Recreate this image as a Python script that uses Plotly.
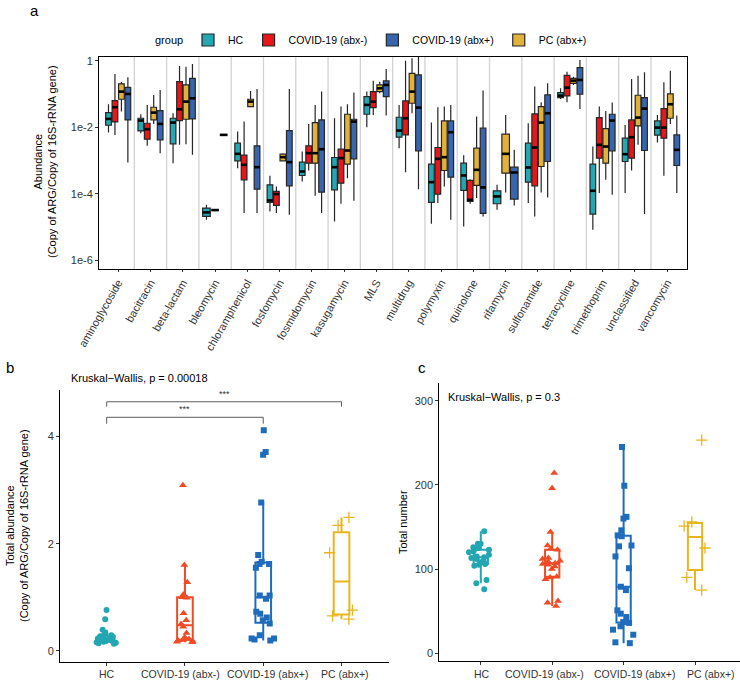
import numpy as np
import plotly.graph_objects as go

# ---------------- Panel a data (log10 abundance: lower whisker, Q1, median, Q3, upper whisker)
categories = ["aminoglycoside", "bacitracin", "beta-lactam", "bleomycin", "chloramphenicol",
              "fosfomycin", "fosmidomycin", "kasugamycin", "MLS", "multidrug", "polymyxin",
              "quinolone", "rifamycin", "sulfonamide", "tetracycline", "trimethoprim",
              "unclassified", "vancomycin"]
groups = ["HC", "COVID-19 (abx-)", "COVID-19 (abx+)", "PC (abx+)"]
dodge_order = ["HC", "COVID-19 (abx-)", "PC (abx+)", "COVID-19 (abx+)"]

hc_stats = [(-2.16, -1.94, -1.75, -1.56, -1.31), (-2.18, -2.11, -1.80, -1.73, -1.61),
            (-3.08, -2.50, -1.86, -1.73, -1.58), (-4.78, -4.68, -4.56, -4.43, -4.33),
            (-3.23, -3.01, -2.80, -2.48, -2.13), (-4.53, -4.26, -4.20, -3.73, -3.46),
            (-3.63, -3.45, -3.33, -3.05, -2.73), (-4.83, -3.88, -3.20, -2.91, -1.73),
            (-2.00, -1.61, -1.33, -1.08, -0.93), (-2.63, -2.30, -2.10, -1.70, -1.33),
            (-4.90, -4.26, -3.65, -3.11, -1.86), (-4.98, -3.90, -3.45, -3.08, -2.84),
            (-4.48, -4.30, -4.08, -3.91, -3.73), (-4.28, -3.65, -3.21, -2.48, -1.88),
            (-1.15, -1.11, -1.05, -0.96, -0.83), (-5.08, -4.61, -3.91, -3.11, -2.58),
            (-3.98, -3.03, -2.81, -2.33, -1.93), (-2.46, -2.24, -2.01, -1.81, -1.63)]
abxneg_stats = [(-2.23, -1.84, -1.40, -1.20, -0.40), (-2.56, -2.36, -2.06, -1.88, -1.33),
                (-2.53, -1.80, -1.46, -0.63, -0.16), (-4.49, -4.49, -4.49, -4.49, -4.49),
                (-4.58, -3.58, -3.13, -2.84, -1.83), (-4.58, -4.35, -4.01, -3.93, -3.78),
                (-3.30, -3.08, -2.78, -2.56, -1.90), (-4.30, -3.68, -2.93, -2.66, -1.38),
                (-1.63, -1.41, -1.23, -0.93, -0.60), (-3.35, -2.23, -1.73, -1.21, 0.00),
                (-4.28, -4.01, -2.95, -2.61, -1.40), (-4.30, -4.23, -4.18, -3.60, -3.56),
                None, (-4.68, -3.76, -2.61, -1.60, -0.78),
                (-1.25, -1.06, -0.81, -0.44, -0.33), (-3.98, -2.93, -2.53, -1.71, -1.38),
                (-3.30, -2.93, -2.30, -1.78, -0.55), (-3.46, -2.33, -2.01, -1.44, -0.65)]
pc_stats = [(-1.53, -1.16, -0.93, -0.70, -0.64), (-1.90, -1.78, -1.56, -1.40, -1.03),
            (-2.51, -1.76, -1.23, -0.73, -0.18), None,
            (-1.38, -1.38, -1.23, -1.16, -0.91), (-3.01, -3.01, -2.90, -2.81, -2.78),
            (-4.06, -3.08, -2.78, -1.86, -1.33), (-3.53, -3.11, -2.70, -1.61, -1.31),
            (-0.98, -0.93, -0.83, -0.73, -0.63), (-1.58, -1.28, -0.93, -0.38, 0.07),
            (-3.78, -3.30, -2.90, -1.81, -1.38), (-4.13, -3.75, -3.28, -2.63, -1.68),
            (-3.96, -3.38, -2.80, -2.21, -1.63), (-3.96, -3.18, -1.86, -1.38, -1.25),
            (-0.73, -0.68, -0.60, -0.53, -0.48), (-3.58, -3.08, -2.58, -2.04, -1.51),
            (-2.53, -1.96, -1.71, -1.04, -0.45), (-1.90, -1.73, -1.31, -1.00, -0.30)]
abxpos_stats = [(-3.06, -1.78, -1.00, -0.80, -0.50), (-2.78, -2.38, -1.90, -1.50, -0.88),
                (-2.83, -1.75, -1.13, -0.53, -0.10), (-2.23, -2.23, -2.23, -2.23, -2.23),
                (-4.58, -3.86, -3.20, -2.56, -0.85), (-4.63, -3.76, -3.05, -2.10, -0.85),
                (-4.58, -3.95, -2.66, -1.78, -0.93), (-4.21, -2.95, -1.83, -1.76, -0.96),
                (-1.65, -1.08, -0.73, -0.61, -0.25), (-3.86, -2.71, -1.41, -0.43, 0.11),
                (-4.78, -3.50, -2.15, -1.81, -1.33), (-4.68, -4.59, -3.81, -2.03, -0.90),
                (-4.35, -4.16, -3.36, -3.20, -2.68), (-4.11, -3.03, -1.58, -1.03, -0.68),
                (-1.45, -1.01, -0.58, -0.21, 0.02), (-4.03, -2.71, -1.80, -1.61, -1.26),
                (-4.61, -2.70, -1.44, -1.11, -0.35), (-3.98, -3.15, -2.68, -2.23, -1.65)]

a_ytickvals = [1, 1e-2, 1e-4, 1e-6]
a_yticktext = ["1", "1e-2", "1e-4", "1e-6"]

# ---------------- Panel b data: total abundance per sample
b_hc = [0.13, 0.14, 0.15, 0.16, 0.17, 0.17, 0.19, 0.21, 0.22, 0.23, 0.24, 0.25, 0.26, 0.27,
        0.28, 0.29, 0.33, 0.39, 0.59, 0.76]
b_abxneg = [0.16, 0.17, 0.18, 0.19, 0.20, 0.22, 0.25, 0.33, 0.45, 0.50, 0.57, 0.70, 0.99, 1.00,
            1.05, 1.28, 1.60, 3.09]
b_abxpos = [0.19, 0.21, 0.23, 0.23, 0.29, 0.51, 0.57, 0.62, 0.69, 0.73, 0.97, 1.03, 1.03,
            1.55, 1.62, 1.66, 1.62, 1.79, 2.77, 3.66, 3.71, 4.12]
b_pc = [0.59, 0.65, 0.76, 1.83, 2.34, 2.49]
b_pvalue_text = "Kruskal\u2212Wallis, p = 0.00018"
b_sig_text = ["***", "***"]

# ---------------- Panel c data: total number of ARGs per sample
c_hc = [76, 83, 87, 104, 105, 106, 108, 110, 112, 113, 114, 115, 117, 120, 121, 123, 125, 126,
        130, 130, 145]
c_abxneg = [56, 60, 62, 88, 90, 91, 100, 103, 105, 106, 107, 109, 110, 112, 113, 123, 124, 128,
            144, 196, 214]
c_abxpos = [12, 13, 22, 28, 32, 36, 37, 43, 47, 51, 75, 79, 101, 115, 127, 128, 139, 140, 146,
            160, 162, 199, 245]
c_pc = [75, 90, 125, 151, 156, 253]
c_pvalue_text = "Kruskal\u2212Wallis, p = 0.3"

# ---------------- styling
FONT = "Liberation Sans, Arial, sans-serif"
W, H = 740, 681
colors_a = {"HC": "#23A8B3", "COVID-19 (abx-)": "#E8161B",
            "COVID-19 (abx+)": "#3866AE", "PC (abx+)": "#E2B13A"}
colors_bc = {"HC": "#22A6B2", "COVID-19 (abx-)": "#EF4B24",
             "COVID-19 (abx+)": "#1F6CBD", "PC (abx+)": "#E9B51F"}
symbols = {"HC": "circle", "COVID-19 (abx-)": "triangle-up",
           "COVID-19 (abx+)": "square", "PC (abx+)": "cross-thin"}
msize = {"HC": 6, "COVID-19 (abx-)": 7, "COVID-19 (abx+)": 6, "PC (abx+)": 8}
# label centres (px) for the group labels under panels b and c (spread to avoid overlap)
b_label_px = [106.7, 180.5, 267.7, 345.0]
c_label_px = [481.7, 544.7, 634.3, 711.3]


def px(x):
    return x / W


def py(y):
    return 1 - y / H


def box_stats(v):
    v = np.sort(np.asarray(v, float))
    q1, md, q3 = np.percentile(v, [25, 50, 75])
    iqr = q3 - q1
    lo = v[v >= q1 - 1.5 * iqr].min()
    hi = v[v <= q3 + 1.5 * iqr].max()
    return lo, q1, md, q3, hi


fig = go.Figure()

# ---------------- Panel a
stats_a = {"HC": hc_stats, "COVID-19 (abx-)": abxneg_stats,
           "COVID-19 (abx+)": abxpos_stats, "PC (abx+)": pc_stats}
DODGE = 0.8
shown = set()
med_x, med_y = [], []
for i, cat in enumerate(categories):
    present = [g for g in dodge_order if stats_a[g][i] is not None]
    n = len(present)
    slot = DODGE / n
    w = slot * 0.88
    for j, g in enumerate(present):
        pos = i + (j - (n - 1) / 2) * slot
        lo, q1, md, q3, hi = [10 ** v for v in stats_a[g][i]]
        fig.add_trace(go.Box(
            x=[pos], q1=[q1], median=[md], q3=[q3], lowerfence=[lo], upperfence=[hi],
            width=w, fillcolor=colors_a[g], line=dict(color="#262626", width=1.2),
            whiskerwidth=0, boxpoints=False, name=g, legendgroup=g,
            showlegend=g not in shown, legendrank=groups.index(g) + 1,
            xaxis="x", yaxis="y", hoverinfo="skip"))
        shown.add(g)
        med_x += [pos - w / 2, pos + w / 2, None]
        med_y += [md, md, None]
fig.add_trace(go.Scatter(x=med_x, y=med_y, mode="lines", line=dict(color="black", width=2.6),
                         showlegend=False, hoverinfo="skip", xaxis="x", yaxis="y"))

# ---------------- Panels b & c
def add_panel(data, xa, ya):
    for g, vals in zip(groups, data):
        col = colors_bc[g]
        lo, q1, md, q3, hi = box_stats(vals)
        fig.add_trace(go.Box(
            x=[g], q1=[q1], median=[md], q3=[q3], lowerfence=[lo], upperfence=[hi],
            width=0.2, fillcolor="rgba(255,255,255,0)", line=dict(color=col, width=2),
            whiskerwidth=0, boxpoints=False, showlegend=False, xaxis=xa, yaxis=ya,
            hoverinfo="skip"))
        mk = dict(symbol=symbols[g], size=msize[g], color=col)
        if g == "PC (abx+)":
            mk["line"] = dict(color=col, width=1.3)
        fig.add_trace(go.Box(
            x=[g] * len(vals), y=vals, width=0.36, boxpoints="all", jitter=1, pointpos=0,
            fillcolor="rgba(0,0,0,0)", line=dict(color="rgba(0,0,0,0)", width=0),
            marker=mk, showlegend=False, xaxis=xa, yaxis=ya, hoverinfo="skip"))


add_panel([b_hc, b_abxneg, b_abxpos, b_pc], "x2", "y2")
add_panel([c_hc, c_abxneg, c_abxpos, c_pc], "x3", "y3")

# ---------------- shapes
shapes = []
for i in range(len(categories) - 1):
    shapes.append(dict(type="line", xref="x", yref="y domain", x0=i + 0.5, x1=i + 0.5,
                       y0=0, y1=1, line=dict(color="#D2D2D2", width=1.3), layer="below"))
# significance brackets in panel b (HC vs abx+, HC vs PC)
brackets = [(0, 2, 4.36, 4.24), (0, 3, 4.65, 4.56)]
for (xa0, xa1, ytop, ytip), lab in zip(brackets, b_sig_text):
    shapes.append(dict(type="path", xref="x2", yref="y2",
                       path=f"M {xa0},{ytip} L {xa0},{ytop} L {xa1},{ytop} L {xa1},{ytip}",
                       line=dict(color="#333333", width=0.8)))

annotations = []
for (xa0, xa1, ytop, ytip), lab in zip(brackets, b_sig_text):
    annotations.append(dict(x=(xa0 + xa1) / 2, y=ytop + 0.02, xref="x2", yref="y2", text=lab,
                            showarrow=False, xanchor="center", yanchor="bottom",
                            font=dict(family=FONT, size=9, color="#333")))
# group labels under panels b and c
for lx_list in (b_label_px, c_label_px):
    for g, lx in zip(groups, lx_list):
        annotations.append(dict(x=px(lx), y=py(674), xref="paper", yref="paper", text=g,
                                showarrow=False, xanchor="center", yanchor="middle",
                                font=dict(family=FONT, size=10.5, color="#333333")))
# panel letters
annotations += [
    dict(x=px(28), y=py(10), text="a", xref="paper", yref="paper", showarrow=False,
         xanchor="left", yanchor="middle", font=dict(family=FONT, size=15, color="black")),
    dict(x=px(4), y=py(367), text="b", xref="paper", yref="paper", showarrow=False,
         xanchor="left", yanchor="middle", font=dict(family=FONT, size=15, color="black")),
    dict(x=px(416), y=py(367), text="c", xref="paper", yref="paper", showarrow=False,
         xanchor="left", yanchor="middle", font=dict(family=FONT, size=15, color="black")),
    dict(x=px(153), y=py(40), text="group", xref="paper", yref="paper", showarrow=False,
         xanchor="left", yanchor="middle", font=dict(family=FONT, size=11, color="black")),
]
# axis titles
annotations += [
    dict(x=px(45), y=py(162), text="Abundance<br>(Copy of ARG/Copy of 16S-rRNA gene)",
         xref="paper", yref="paper", showarrow=False, textangle=-90,
         xanchor="center", yanchor="middle",
         font=dict(family=FONT, size=11, color="black")),
    dict(x=px(17), y=py(526), text="Total abundance<br>(Copy of ARG/Copy of 16S-rRNA gene)",
         xref="paper", yref="paper", showarrow=False, textangle=-90,
         xanchor="center", yanchor="middle",
         font=dict(family=FONT, size=11, color="black")),
    dict(x=px(403), y=py(522), text="Total number",
         xref="paper", yref="paper", showarrow=False, textangle=-90,
         xanchor="center", yanchor="middle",
         font=dict(family=FONT, size=11, color="black")),
    dict(x=px(69), y=py(378), text=b_pvalue_text, xref="paper", yref="paper",
         showarrow=False, xanchor="left", yanchor="middle",
         font=dict(family=FONT, size=11, color="black")),
    dict(x=px(446), y=py(397), text=c_pvalue_text, xref="paper", yref="paper",
         showarrow=False, xanchor="left", yanchor="middle",
         font=dict(family=FONT, size=11, color="black")),
]

tickfont = dict(family=FONT, size=11, color="#333333")
common = dict(showgrid=False, zeroline=False, ticks="outside", ticklen=3, tickcolor="#333",
              showline=True, linecolor="black", linewidth=1, tickfont=tickfont)

fig.update_layout(
    template="none",
    width=W, height=H,
    margin=dict(l=0, r=0, t=0, b=0),
    paper_bgcolor="white", plot_bgcolor="white",
    font=dict(family=FONT, size=11, color="black"),
    boxmode="overlay",
    showlegend=True,
    legend=dict(orientation="h", x=px(188), xanchor="left", y=py(40), yanchor="middle",
                font=dict(family=FONT, size=10.5, color="black"), bgcolor="rgba(0,0,0,0)",
                itemwidth=30, traceorder="normal"),
    xaxis=dict(domain=[px(99), px(687)], range=[-0.594, 17.616],
               tickvals=list(range(len(categories))), ticktext=categories, tickangle=-60,
               mirror=True, anchor="y", **{**common, "ticklen": 2}),
    yaxis=dict(domain=[py(269), py(57)], type="log", range=[-6.26, 0.11], tickvals=a_ytickvals,
               ticktext=a_yticktext, mirror=True, anchor="x", **common),
    xaxis2=dict(domain=[px(60), px(388.5)], type="category", categoryorder="array",
                categoryarray=groups, range=[-0.596, 3.6], anchor="y2",
                showticklabels=False, **common),
    yaxis2=dict(domain=[py(662), py(390)], range=[-0.21, 4.87], tickvals=[0, 2, 4],
                anchor="x2", **common),
    xaxis3=dict(domain=[px(439.3), 1.0], type="category", categoryorder="array",
                categoryarray=groups, range=[-0.581, 3.63], anchor="y3",
                showticklabels=False, **common),
    yaxis3=dict(domain=[py(661), py(383.3)], range=[-9.2, 320.6], tickvals=[0, 100, 200, 300],
                anchor="x3", **common),
    shapes=shapes,
    annotations=annotations,
)
for ax in ["xaxis", "yaxis", "xaxis2", "yaxis2", "xaxis3", "yaxis3"]:
    fig.layout[ax].automargin = False

fig.write_html("out.html", config={"displayModeBar": False},
               post_script="document.body.style.margin='0';document.body.style.overflow='hidden';")
